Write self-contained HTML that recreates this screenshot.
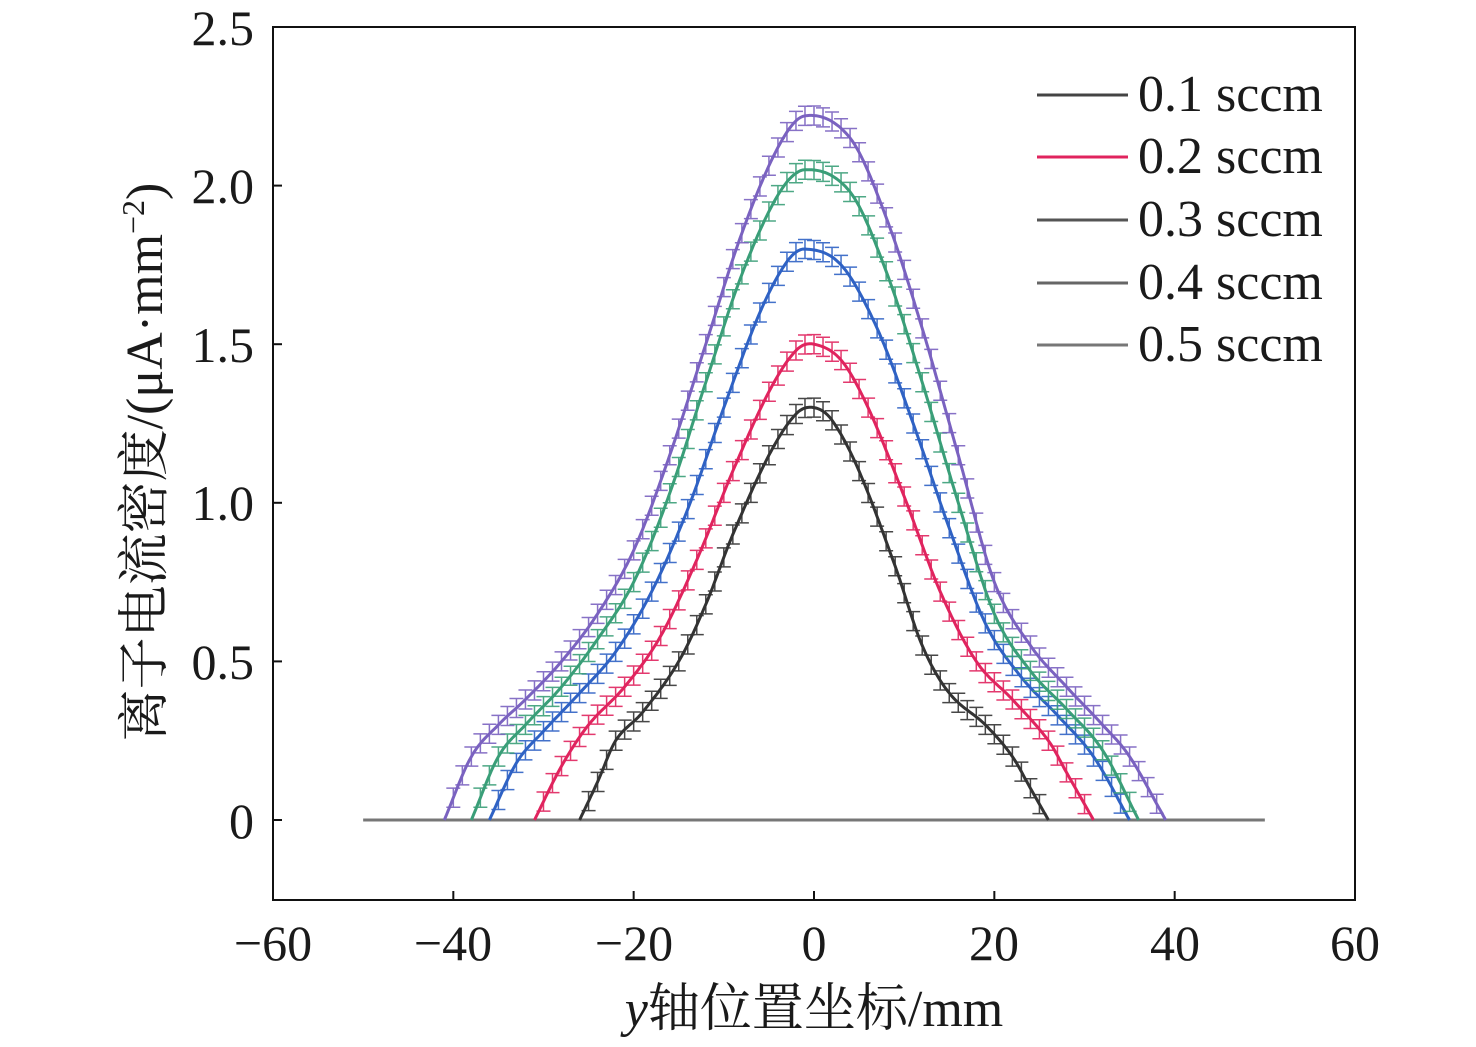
<!DOCTYPE html>
<html><head><meta charset="utf-8"><style>
body{margin:0;background:#fff}
svg text{font-family:"Liberation Serif","Noto Serif CJK SC",serif;fill:#1a1a1a}
</style></head><body>
<svg id="s" width="1476" height="1042" viewBox="0 0 1476 1042" xmlns="http://www.w3.org/2000/svg">
<rect width="1476" height="1042" fill="#fff"/>
<g id="plot"></g>
<rect x="273" y="27" width="1082" height="873" fill="none" stroke="#111" stroke-width="2"/>
<g font-size="50" text-anchor="end">
<text x="254" y="45">2.5</text><text x="254" y="203">2.0</text><text x="254" y="362">1.5</text>
<text x="254" y="520">1.0</text><text x="254" y="679">0.5</text><text x="254" y="838">0</text>
</g>
<g font-size="50" text-anchor="middle">
<text x="273" y="960">−60</text><text x="453" y="960">−40</text><text x="634" y="960">−20</text>
<text x="814" y="960">0</text><text x="994" y="960">20</text><text x="1175" y="960">40</text><text x="1355" y="960">60</text>
</g>
<text x="814" y="1026" font-size="52" text-anchor="middle"><tspan font-style="italic">y</tspan>轴位置坐标/mm</text>
<text transform="translate(162,462) rotate(-90)" font-size="52" text-anchor="middle">离子电流密度/(μA·mm<tspan dy="-18" font-size="32">−2</tspan><tspan dy="18">)</tspan></text>
<g font-size="52">
<line x1="1037" y1="95" x2="1128" y2="95" stroke="#444" stroke-width="3"/><text x="1138" y="111">0.1 sccm</text>
<line x1="1037" y1="157" x2="1128" y2="157" stroke="#e0245e" stroke-width="3"/><text x="1138" y="173">0.2 sccm</text>
<line x1="1037" y1="220" x2="1128" y2="220" stroke="#555" stroke-width="3"/><text x="1138" y="236">0.3 sccm</text>
<line x1="1037" y1="283" x2="1128" y2="283" stroke="#666" stroke-width="3"/><text x="1138" y="299">0.4 sccm</text>
<line x1="1037" y1="345" x2="1128" y2="345" stroke="#777" stroke-width="3"/><text x="1138" y="361">0.5 sccm</text>
</g>
</svg>
<script>
const X=x=>814+x*9.017, Y=y=>820-y*317.2;
const curves=[
["#333",[[-26,0],[-24,.12],[-22,.25],[-19,.34],[-15,.5],[-12,.68],[-9,.9],[-5,1.15],[-2,1.28],[0,1.3],[2,1.26],[5,1.1],[9,.8],[12,.55],[15,.4],[19,.3],[22,.2],[24,.1],[26,0]]],
["#e0245e",[[-31,0],[-28,.17],[-25,.3],[-21,.42],[-17,.58],[-13,.82],[-9,1.1],[-5,1.35],[-2,1.48],[0,1.5],[3,1.45],[6,1.3],[10,1.02],[14,.72],[18,.5],[22,.38],[26,.25],[28,.15],[31,0]]],
["#2f62c4",[[-36,0],[-33,.18],[-30,.28],[-26,.4],[-22,.53],[-18,.72],[-14,.98],[-10,1.3],[-6,1.6],[-3,1.76],[-1,1.8],[3,1.75],[7,1.55],[11,1.25],[15,.92],[19,.62],[23,.45],[27,.33],[31,.2],[35,0]]],
["#3a9e78",[[-38,0],[-35,.2],[-32,.3],[-28,.42],[-24,.57],[-20,.75],[-16,1.03],[-12,1.38],[-8,1.72],[-4,1.97],[-1,2.05],[4,1.98],[8,1.73],[12,1.38],[16,1.0],[20,.65],[24,.47],[28,.35],[32,.22],[36,0]]],
["#7a62c0",[[-41,0],[-38,.2],[-35,.3],[-32,.38],[-28,.5],[-24,.65],[-20,.85],[-16,1.15],[-12,1.5],[-8,1.85],[-4,2.12],[-1,2.22],[4,2.15],[8,1.9],[12,1.55],[16,1.15],[20,.75],[24,.55],[28,.42],[32,.3],[35,.2],[39,0]]]
];
function interp(p,x){for(let i=0;i<p.length-1;i++){if(x>=p[i][0]&&x<=p[i+1][0]){const p0=p[Math.max(i-1,0)],p1=p[i],p2=p[i+1],p3=p[Math.min(i+2,p.length-1)];const t=(x-p1[0])/(p2[0]-p1[0]);const m1=(p2[1]-p0[1])/((p2[0]-p0[0])||1)*(p2[0]-p1[0]),m2=(p3[1]-p1[1])/((p3[0]-p1[0])||1)*(p2[0]-p1[0]);const t2=t*t,t3=t2*t;let v=(2*t3-3*t2+1)*p1[1]+(t3-2*t2+t)*m1+(-2*t3+3*t2)*p2[1]+(t3-t2)*m2;return Math.max(v,0);}}return 0;}
let h='<line x1="'+X(-50)+'" y1="820" x2="'+X(50)+'" y2="820" stroke="#777" stroke-width="3"/>';
h+='<g stroke="#111" stroke-width="2">';
for(let v of [-40,-20,0,20,40]) h+='<line x1="'+X(v)+'" y1="900" x2="'+X(v)+'" y2="891"/>';
for(let v of [0,.5,1,1.5,2]) h+='<line x1="273" y1="'+Y(v)+'" x2="282" y2="'+Y(v)+'"/>';
h+='</g>';
for(const [c,p] of curves){let d='';const x0=p[0][0],x1=p[p.length-1][0];for(let x=x0;x<=x1+1e-6;x+=0.25){d+=(d?'L':'M')+X(x).toFixed(1)+','+Y(interp(p,x)).toFixed(1);}
h+='<path d="'+d+'" fill="none" stroke="'+c+'" stroke-width="3"/>';
let e='';for(let x=Math.ceil(x0)+1;x<x1;x+=1){const y=interp(p,x);if(y<=0)continue;const yt=Y(y+0.03),yb=Y(y-0.03),xx=X(x);e+='M'+xx+','+yt+'V'+yb+'M'+(xx-7)+','+yt+'h14M'+(xx-7)+','+yb+'h14';}
h+='<path d="'+e+'" fill="none" stroke="'+c+'" stroke-width="1.5" opacity="0.9"/>';}
document.getElementById('plot').innerHTML=h;
</script>
</body></html>
